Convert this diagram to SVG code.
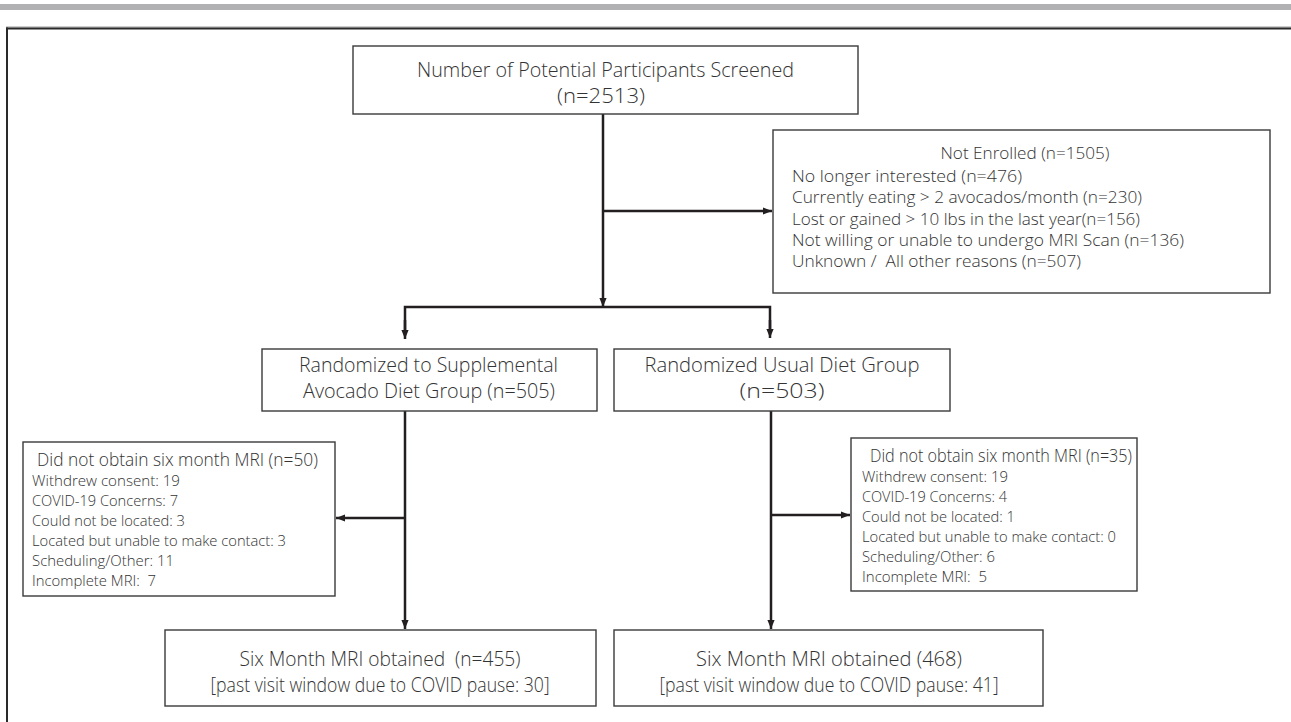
<svg xmlns="http://www.w3.org/2000/svg" width="1291" height="722" viewBox="0 0 1291 722">
<defs>
<marker id="ah" markerUnits="userSpaceOnUse" markerWidth="9" markerHeight="9" viewBox="0 0 10 10" refX="10" refY="5" orient="auto">
<path d="M0,1 L10,5 L0,9 Z" fill="#231f20"/>
</marker>
</defs>
<style>
.box{fill:#fff;stroke:#3a3a3a;stroke-width:1.4}
.t{font-family:"Open Sans","Noto Sans",sans-serif;font-weight:300;fill:#333;white-space:pre}
.big{font-size:19.5px}
.mid{font-size:16.5px}
.ttl{font-size:18px}
.sm{font-size:14.5px}
.c{text-anchor:middle}
.con{fill:none;stroke:#231f20;stroke-width:2.5}
</style>
<rect width="1291" height="722" fill="#fff"/>
<g id="frame">
<rect x="0" y="4" width="1291" height="6" fill="#b1b1b3"/>
<line x1="6" y1="27" x2="1291" y2="27" stroke="#9a9a9a" stroke-width="1"/>
<line x1="6" y1="28.5" x2="1291" y2="28.5" stroke="#2a2a2a" stroke-width="2"/>
<line x1="7" y1="27.5" x2="7" y2="722" stroke="#2a2a2a" stroke-width="2"/>
</g>
<g id="connectors">
<line class="con" x1="603" y1="114" x2="603" y2="307" marker-end="url(#ah)"/>
<line class="con" x1="603" y1="211" x2="772" y2="211" marker-end="url(#ah)"/>
<polyline class="con" points="405,330 405,307 770,307 770,330"/>
<line class="con" x1="405" y1="320" x2="405" y2="339" marker-end="url(#ah)"/>
<line class="con" x1="770" y1="320" x2="770" y2="338" marker-end="url(#ah)"/>
<line class="con" x1="405" y1="411" x2="405" y2="629" marker-end="url(#ah)"/>
<line class="con" x1="405" y1="518" x2="336" y2="518" marker-end="url(#ah)"/>
<line class="con" x1="771" y1="411" x2="771" y2="629" marker-end="url(#ah)"/>
<line class="con" x1="771" y1="515" x2="850" y2="515" marker-end="url(#ah)"/>
</g>
<g id="screened">
<rect class="box" x="353" y="46" width="505" height="68"/>
<text class="t big c" x="605.5" y="77" textLength="377" lengthAdjust="spacingAndGlyphs">Number of Potential Participants Screened</text>
<text class="t big c" x="601" y="103" textLength="88" lengthAdjust="spacingAndGlyphs">(n=2513)</text>
</g>
<g id="not-enrolled">
<rect class="box" x="773" y="130" width="497" height="163"/>
<text class="t mid c" x="1025" y="159" textLength="169" lengthAdjust="spacingAndGlyphs">Not Enrolled (n=1505)</text>
<text class="t mid" x="792" y="181.5" textLength="230" lengthAdjust="spacingAndGlyphs">No longer interested (n=476)</text>
<text class="t mid" x="792" y="203" textLength="350" lengthAdjust="spacingAndGlyphs">Currently eating &gt; 2 avocados/month (n=230)</text>
<text class="t mid" x="792" y="224.5" textLength="348" lengthAdjust="spacingAndGlyphs">Lost or gained &gt; 10 lbs in the last year(n=156)</text>
<text class="t mid" x="792" y="245.5" textLength="392" lengthAdjust="spacingAndGlyphs">Not willing or unable to undergo MRI Scan (n=136)</text>
<text class="t mid" x="792" y="266.5" textLength="289" lengthAdjust="spacingAndGlyphs">Unknown /  All other reasons (n=507)</text>
</g>
<g id="avocado-group">
<rect class="box" x="262" y="349" width="335" height="62"/>
<text class="t big c" x="428.5" y="372" textLength="259" lengthAdjust="spacingAndGlyphs">Randomized to Supplemental</text>
<text class="t big c" x="429" y="398" textLength="252" lengthAdjust="spacingAndGlyphs">Avocado Diet Group (n=505)</text>
</g>
<g id="usual-group">
<rect class="box" x="614" y="349" width="336" height="62"/>
<text class="t big c" x="782" y="372" textLength="275" lengthAdjust="spacingAndGlyphs">Randomized Usual Diet Group</text>
<text class="t big c" x="782" y="398" textLength="85" lengthAdjust="spacingAndGlyphs">(n=503)</text>
</g>
<g id="avocado-missing">
<rect class="box" x="23" y="442" width="312" height="154"/>
<text class="t ttl" x="37" y="466" textLength="281" lengthAdjust="spacingAndGlyphs">Did not obtain six month MRI (n=50)</text>
<text class="t sm" x="32" y="486" textLength="148" lengthAdjust="spacingAndGlyphs">Withdrew consent: 19</text>
<text class="t sm" x="32" y="506" textLength="146" lengthAdjust="spacingAndGlyphs">COVID-19 Concerns: 7</text>
<text class="t sm" x="32" y="526" textLength="153" lengthAdjust="spacingAndGlyphs">Could not be located: 3</text>
<text class="t sm" x="32" y="546" textLength="254" lengthAdjust="spacingAndGlyphs">Located but unable to make contact: 3</text>
<text class="t sm" x="32" y="566" textLength="142" lengthAdjust="spacingAndGlyphs">Scheduling/Other: 11</text>
<text class="t sm" x="32" y="586" textLength="124" lengthAdjust="spacingAndGlyphs">Incomplete MRI:  7</text>
</g>
<g id="usual-missing">
<rect class="box" x="851" y="438" width="286" height="153"/>
<text class="t ttl" x="870" y="462" textLength="262" lengthAdjust="spacingAndGlyphs">Did not obtain six month MRI (n=35)</text>
<text class="t sm" x="862" y="482" textLength="146" lengthAdjust="spacingAndGlyphs">Withdrew consent: 19</text>
<text class="t sm" x="862" y="502" textLength="145" lengthAdjust="spacingAndGlyphs">COVID-19 Concerns: 4</text>
<text class="t sm" x="862" y="522" textLength="153" lengthAdjust="spacingAndGlyphs">Could not be located: 1</text>
<text class="t sm" x="862" y="542" textLength="254" lengthAdjust="spacingAndGlyphs">Located but unable to make contact: 0</text>
<text class="t sm" x="862" y="562" textLength="133" lengthAdjust="spacingAndGlyphs">Scheduling/Other: 6</text>
<text class="t sm" x="862" y="582" textLength="125" lengthAdjust="spacingAndGlyphs">Incomplete MRI:  5</text>
</g>
<g id="avocado-obtained">
<rect class="box" x="165" y="630" width="431" height="76"/>
<text class="t big c" x="380" y="666" textLength="281" lengthAdjust="spacingAndGlyphs">Six Month MRI obtained  (n=455)</text>
<text class="t big c" x="380" y="692" textLength="339" lengthAdjust="spacingAndGlyphs">[past visit window due to COVID pause: 30]</text>
</g>
<g id="usual-obtained">
<rect class="box" x="614" y="630" width="429" height="76"/>
<text class="t big c" x="829" y="666" textLength="266" lengthAdjust="spacingAndGlyphs">Six Month MRI obtained (468)</text>
<text class="t big c" x="829" y="692" textLength="339" lengthAdjust="spacingAndGlyphs">[past visit window due to COVID pause: 41]</text>
</g>
</svg>
